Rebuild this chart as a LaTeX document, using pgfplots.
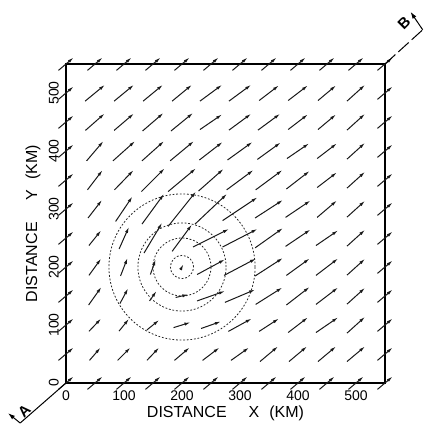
\documentclass[border=0pt]{standalone}
\usepackage{pgfplots}
\pgfplotsset{compat=1.18}
\usepackage{pgfplotstable}
\usepackage{fontspec}
\setmainfont{Liberation Sans}
\usetikzlibrary{arrows.meta}

% grid point (x,y) in km, vector (u,v) in km (arrow drawn centred on the grid point)
\pgfplotstableread{
x y u v
0 0 26 22
0 50 26 22
0 100 26 22
0 150 26 22
0 200 26 22
0 250 26 22
0 300 26 22
0 350 26 22
0 400 26 22
0 450 26 22
0 500 26 22
0 550 26 22
50 0 26 22
50 50 19 22
50 100 21 22
50 150 22 31
50 200 21 29
50 250 21 26
50 300 24 31
50 350 26 34
50 400 29 34
50 450 33 29
50 500 34 28
50 550 26 22
100 0 26 22
100 50 22 22
100 100 17 21
100 150 14 26
100 200 12 31
100 250 17 38
100 300 29 43
100 350 33 34
100 400 38 34
100 450 34 29
100 500 34 28
100 550 26 22
150 0 26 22
150 50 21 22
150 100 21 17
150 150 12 17
150 200 9 26
150 250 31 52
150 300 38 52
150 350 40 40
150 400 38 34
150 450 36 31
150 500 34 28
150 550 26 22
200 0 26 22
200 50 26 22
200 100 29 9
200 150 22 5
200 200 5 9
200 250 34 46
200 300 48 60
200 350 48 40
200 400 41 34
200 450 38 31
200 500 34 28
200 550 26 22
250 0 26 22
250 50 29 22
250 100 34 12
250 150 48 17
250 200 48 26
250 250 62 31
250 300 55 52
250 350 43 38
250 400 40 31
250 450 38 26
250 500 38 28
250 550 26 22
300 0 26 22
300 50 31 22
300 100 40 22
300 150 52 22
300 200 55 29
300 250 60 31
300 300 60 40
300 350 46 34
300 400 43 31
300 450 38 28
300 500 38 28
300 550 26 22
350 0 26 22
350 50 31 26
350 100 34 22
350 150 46 29
350 200 48 31
350 250 48 34
350 300 48 31
350 350 46 34
350 400 40 29
350 450 38 28
350 500 34 26
350 550 26 22
400 0 26 22
400 50 31 26
400 100 34 26
400 150 40 31
400 200 40 29
400 250 43 29
400 300 43 29
400 350 40 31
400 400 38 26
400 450 34 26
400 500 34 26
400 550 26 22
450 0 26 22
450 50 31 26
450 100 38 26
450 150 38 29
450 200 38 29
450 250 38 26
450 300 34 29
450 350 34 26
450 400 34 26
450 450 31 26
450 500 31 26
450 550 26 22
500 0 26 22
500 50 31 26
500 100 31 28
500 150 31 28
500 200 31 28
500 250 31 28
500 300 31 28
500 350 31 28
500 400 31 28
500 450 31 28
500 500 31 28
500 550 26 22
550 0 26 22
550 50 26 22
550 100 26 22
550 150 26 22
550 200 26 22
550 250 26 22
550 300 26 22
550 350 26 22
550 400 26 22
550 450 26 22
550 500 26 22
550 550 26 22
}\field

\begin{document}
\begin{tikzpicture}
\useasboundingbox (-66pt,-44pt) rectangle (359pt,383pt);
\begin{axis}[
  anchor=south west, at={(0pt,0pt)},
  width=319pt, height=319pt, scale only axis,
  xmin=0, xmax=550, ymin=0, ymax=550,
  clip=false,
  axis line style={line width=1.8pt},
  xtick={0,100,200,300,400,500},
  ytick={0,100,200,300,400,500},
  major tick length=0pt,
  tick label style={font=\fontsize{14}{14}\selectfont, inner sep=0pt},
  /pgf/number format/assume math mode=true,
  xticklabel shift=8pt, yticklabel shift=7pt,
  yticklabel style={rotate=90, anchor=south},
  xticklabel style={anchor=north},
  xlabel={DISTANCE\hspace{22pt}X\hspace{10pt}(KM)},
  ylabel={DISTANCE\hspace{22pt}Y\hspace{10pt}(KM)},
  label style={font=\fontsize{16}{16}\selectfont},
  xlabel style={at={(axis description cs:0.5,-0.094)}, anchor=center},
  ylabel style={at={(axis description cs:-0.1034,0.5)}, anchor=center},
]
\addplot[black!90, line width=1.0pt,
  quiver={u=\thisrow{u}, v=\thisrow{v}},
  -{Latex[length=6pt,width=3.2pt]}]
  table[x expr=\thisrow{x}-0.5*\thisrow{u}, y expr=\thisrow{y}-0.5*\thisrow{v}] {\field};

\draw[black!85, line width=0.8pt, dash pattern=on 1.8pt off 1.8pt] (axis cs:200,200) circle[radius=20];
\draw[black!85, line width=0.8pt, dash pattern=on 1.8pt off 1.8pt] (axis cs:200,200) circle[radius=50];
\draw[black!85, line width=0.8pt, dash pattern=on 1.8pt off 1.8pt] (axis cs:200,200) circle[radius=76];
\draw[black!85, line width=0.8pt, dash pattern=on 1.8pt off 1.8pt] (axis cs:200,200) circle[radius=126];

% section line A-B
\draw[line width=1pt, dash pattern=on 14pt off 4pt] (axis cs:550,550) -- (axis cs:615,609);
\draw[line width=1pt, -{Latex[length=7pt,width=4.5pt]}] (axis cs:615,609) -- (axis cs:594,640);
\node[rotate=45, font=\fontsize{15}{15}\selectfont\bfseries] at (axis cs:583,621) {B};
\draw[line width=1pt] (axis cs:0,0) -- (axis cs:-79,-69);
\draw[line width=1pt, -{Latex[length=7pt,width=4.5pt]}] (axis cs:-79,-69) -- (axis cs:-100,-52);
\node[rotate=45, font=\fontsize{15}{15}\selectfont\bfseries] at (axis cs:-72,-49) {A};
\end{axis}
\end{tikzpicture}
\end{document}
